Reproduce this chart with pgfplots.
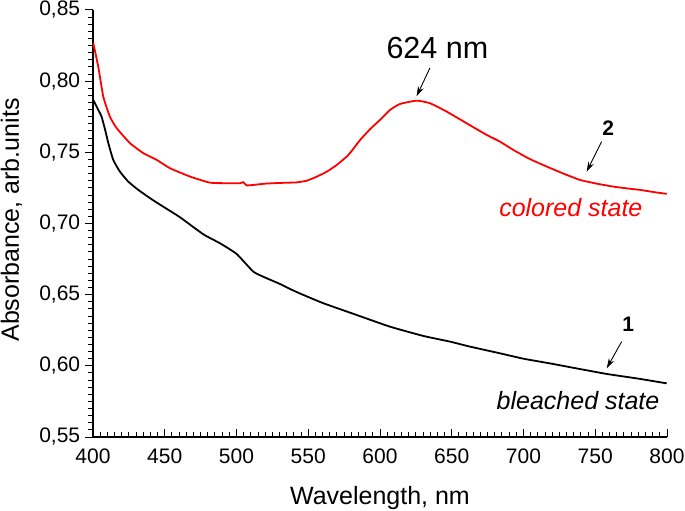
\documentclass[border=0pt]{standalone}
\usepackage{pgfplots}
\pgfplotsset{compat=1.18}
\usepackage{fontspec}
\setmainfont{Liberation Sans}
\usetikzlibrary{arrows.meta}
\begin{document}
\fontsize{20}{24}\selectfont
\begin{tikzpicture}
\begin{axis}[
  scale only axis, width=574pt, height=427pt,
  at={(0,0)}, anchor=south west,
  xmin=400, xmax=800, ymin=0.55, ymax=0.85,
  axis x line*=bottom, axis y line*=left,
  axis line style={line width=1.3pt},
  xtick={400,450,...,800}, ytick={0.55,0.60,0.65,0.70,0.75,0.80,0.85},
  minor x tick num=9, minor y tick num=9,
  major tick length=8pt, minor tick length=5pt,
  every tick/.style={line width=1pt, black},
  xtick align=inside, ytick align=outside,
  /pgf/number format/assume math mode=true,
  yticklabel={\pgfmathprintnumber[fixed,fixed zerofill,precision=2,use comma]{\tick}},
  xticklabel style={font=\fontsize{21}{25}\selectfont, yshift=-5pt},
  yticklabel style={font=\fontsize{21}{25}\selectfont, xshift=2pt},
  scaled y ticks=false,
  clip=false,
]
\addplot[red, line width=1.8pt, smooth, tension=0.3] coordinates {
(400.2,0.8267)(403.7,0.810)(407.2,0.789)(411.8,0.775)(416.5,0.767)(425.8,0.7564)(435.1,0.7494)
(444.4,0.7447)(453.7,0.7388)(467.6,0.733)(481.5,0.7287)(495,0.7283)(502.4,0.7283)(504.7,0.7290)
(507.1,0.7268)(511.7,0.7271)(520,0.7280)(530.3,0.7285)(542,0.7289)(549,0.7301)(555.9,0.7329)
(562.9,0.7364)(569.8,0.7411)(576.8,0.747)(580.3,0.7510)(586,0.7585)(593,0.7662)(600,0.7728)
(607,0.7798)(614,0.7840)(625.6,0.7863)(634.8,0.7845)(646.5,0.7786)(660.4,0.7704)(674.4,0.7622)
(683.6,0.7575)(692.9,0.7517)(704,0.7455)(716.2,0.740)(728,0.7350)(739.4,0.7306)(751,0.7280)
(762.6,0.7259)(771,0.7248)(781.2,0.7236)(790,0.7222)(799.8,0.7208)
};
\addplot[black, line width=1.8pt, smooth, tension=0.3] coordinates {
(400.2,0.7868)(403.7,0.7798)(406,0.775)(408.4,0.766)(410.7,0.7564)(414.1,0.7447)(418.8,0.7364)
(424.6,0.7294)(431.6,0.7236)(440.9,0.7170)(449,0.7118)(460.6,0.7044)(476.9,0.6924)(488.5,0.6861)
(500.1,0.6786)(511.7,0.6662)(520,0.6620)(530.3,0.6575)(537.3,0.6540)(544.3,0.6508)(560.5,0.644)
(583.8,0.6357)(607,0.6275)(630.2,0.621)(648.8,0.617)(662.7,0.6135)(683.6,0.6088)(700,0.6050)
(718.5,0.6017)(738,0.5980)(758,0.5943)(780,0.5910)(799.8,0.5877)
};
% annotations
\node[anchor=base] at (axis cs:640,0.816) {\fontsize{30.5}{34}\selectfont 624 nm};
\draw[-{Stealth[length=10pt,width=6pt]}, line width=0.9pt] (axis cs:634.8,0.8093) -- (axis cs:625.5,0.7894);
\node[anchor=base] at (axis cs:759,0.762) {\fontsize{21}{25}\selectfont\bfseries 2};
\draw[-{Stealth[length=10pt,width=6pt]}, line width=0.9pt] (axis cs:754.4,0.7575) -- (axis cs:744,0.7364);
\node[red, anchor=base] at (axis cs:733,0.7046) {\fontsize{25}{29}\selectfont\itshape colored state};
\node[anchor=base] at (axis cs:773,0.6238) {\fontsize{21}{25}\selectfont\bfseries 1};
\draw[-{Stealth[length=10pt,width=6pt]}, line width=0.9pt] (axis cs:768.4,0.6170) -- (axis cs:758,0.5983);
\node[anchor=base] at (axis cs:738,0.569) {\fontsize{25}{29}\selectfont\itshape bleached state};
\end{axis}
\node[rotate=90, anchor=base] at (-74pt,217pt) {\fontsize{25}{29}\selectfont Absorbance, arb.units};
\node[anchor=base] at (287pt,-67pt) {\fontsize{25}{29}\selectfont Wavelength, nm};
\pgfresetboundingbox
\path[use as bounding box] (-93pt,-74pt) rectangle (592pt,437pt);
\end{tikzpicture}
\end{document}
